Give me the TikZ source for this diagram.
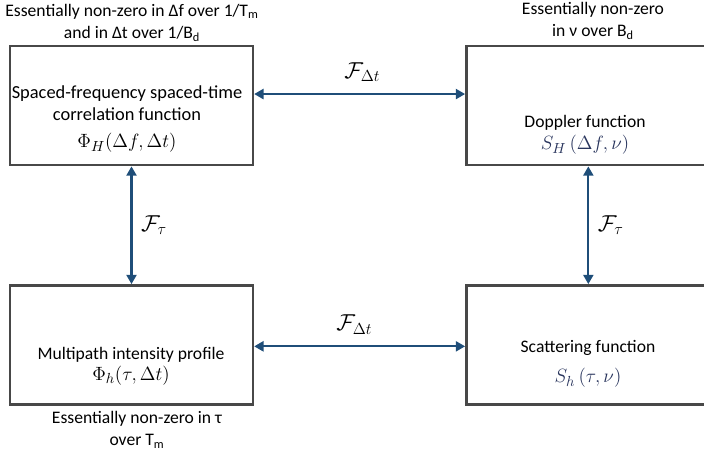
\documentclass[tikz,border=0pt]{standalone}
\usepackage{amsmath}
\usepackage[no-math]{fontspec}
\setmainfont{Carlito}
\usetikzlibrary{arrows.meta}
\usetikzlibrary{calc}

\definecolor{boxgray}{RGB}{72,72,72}
\definecolor{linkblue}{RGB}{31,78,121}
\definecolor{fnnavy}{RGB}{40,52,92}
\newcommand{\fnsize}{\fontsize{15}{18}\selectfont}

\begin{document}
\begin{tikzpicture}[x=0.75pt, y=-0.75pt,
    every node/.style={font=\fontsize{13.2}{16.5}\selectfont},
    fbox/.style={draw=boxgray, line width=1.8pt, inner sep=0pt, minimum height=89.5pt},
    link/.style={linkblue, line width=1.7pt, {Triangle[length=7pt,width=7.5pt]}-{Triangle[length=7pt,width=7.5pt]}},
    xform/.style={text=black, font=\fontsize{16.5}{19}\selectfont}]

    \useasboundingbox (0,0) rectangle (704,454);
    \clip (0,0) rectangle (704,454);

    % the four boxes
    \node[fbox, minimum width=182.2pt] (corr) at (131.5, 105.5) {};
    \node[fbox, minimum width=181pt] (dopp) at (587, 105.5) {};
    \node[fbox, minimum width=182.2pt] (mpath) at (131.5, 345) {};
    \node[fbox, minimum width=181pt] (scat) at (587, 345) {};

    \node[align=center, font=\fontsize{13.8}{17}\selectfont] (corrtxt) at (127, 119) {Spaced-frequency spaced-time\\correlation function\\[3pt] {\fnsize$\Phi_H(\Delta f, \Delta t)$}};
    \node[align=center] (dopptxt) at (585, 135) {Doppler function\\[0pt] {\fnsize$\color{fnnavy}S_H\left(\Delta f, \nu\right)$}};
    \node[align=center] (mpathtxt) at (131, 366) {Multipath intensity profile\\[-1pt] {\fnsize$\Phi_h(\tau, \Delta t)$}};
    \node[align=center] (scattxt) at (588, 364) {Scattering function\\[6pt] {\fnsize$\color{fnnavy}S_h\left(\tau, \nu\right)$}};

    % notes about support
    \node[align=center] (corrnote) at (132, 23) {Essentially non-zero in Δf over 1/T\textsubscript{m}\\and in Δt over 1/B\textsubscript{d}};
    \node[align=center] (doppnote) at (593, 21) {Essentially non-zero\\in ν over B\textsubscript{d}};
    \node[align=center] (mpathnote) at (137, 430) {Essentially non-zero in τ\\over T\textsubscript{m}};

    % Fourier pairs
    \draw[link] ([yshift=8.6pt]corr.east) -- ([yshift=8.6pt]dopp.west) node[xform, midway, above=5pt, xshift=2pt] {$\mathcal{F}_{\Delta t}$};
    \draw[link] ([yshift=-1pt]mpath.east) -- ([yshift=-1pt]scat.west) node[xform, midway, above=5pt, xshift=-4pt] {$\mathcal{F}_{\Delta t}$};
    \draw[link] (corr.south) -- (mpath.north) node[xform, midway, right=3pt] {$\mathcal{F}_{\tau}$};
    \draw[link] ([xshift=1pt]dopp.south) -- ([xshift=1pt]scat.north) node[xform, midway, right=3pt] {$\mathcal{F}_{\tau}$};

\end{tikzpicture}
\end{document}
